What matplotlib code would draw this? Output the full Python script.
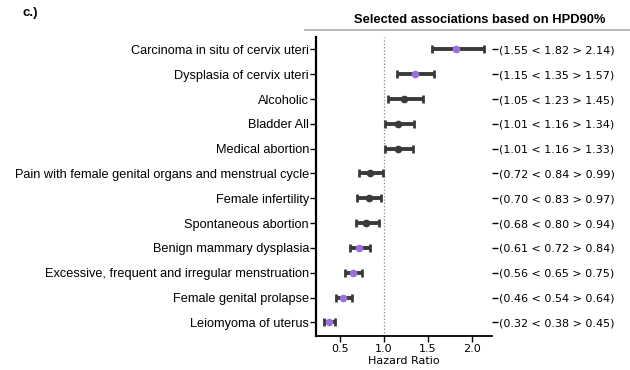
import matplotlib.pyplot as plt
from matplotlib.lines import Line2D

labels = [
    "Carcinoma in situ of cervix uteri",
    "Dysplasia of cervix uteri",
    "Alcoholic",
    "Bladder All",
    "Medical abortion",
    "Pain with female genital organs and menstrual cycle",
    "Female infertility",
    "Spontaneous abortion",
    "Benign mammary dysplasia",
    "Excessive, frequent and irregular menstruation",
    "Female genital prolapse",
    "Leiomyoma of uterus",
]
lower = [1.55, 1.15, 1.05, 1.01, 1.01, 0.72, 0.70, 0.68, 0.61, 0.56, 0.46, 0.32]
hr = [1.82, 1.35, 1.23, 1.16, 1.16, 0.84, 0.83, 0.80, 0.72, 0.65, 0.54, 0.38]
upper = [2.14, 1.57, 1.45, 1.34, 1.33, 0.99, 0.97, 0.94, 0.84, 0.75, 0.64, 0.45]
highlight = [True, True, False, False, False, False, False, False, True, True, True, True]

purple = "#9b6fe0"
bar_col = "#3a3a3a"

fig = plt.figure(figsize=(6.3, 3.7), dpi=100)
ax = fig.add_axes([0.5016, 0.092, 0.2794, 0.808])

ypos = list(range(len(labels)))
for y, lo, m, hi, hl in zip(ypos, lower, hr, upper, highlight):
    ax.errorbar(m, y, xerr=[[m - lo], [hi - m]], fmt="o", color=bar_col,
                ecolor=bar_col, elinewidth=2.8, capsize=3, capthick=2,
                markersize=4.5, markerfacecolor=purple if hl else bar_col,
                markeredgecolor=purple if hl else bar_col, zorder=3)

ax.axvline(1.0, color="#888888", linestyle=":", linewidth=0.9, zorder=1)

ax.set_ylim(11.55, -0.5)
ax.set_xlim(0.229, 2.231)
ax.set_xticks([0.5, 1.0, 1.5, 2.0])
ax.set_xticklabels(["0.5", "1.0", "1.5", "2.0"], fontsize=8)
ax.set_xlabel("Hazard Ratio", fontsize=8, labelpad=1)
ax.set_yticks(ypos)
ax.set_yticklabels(labels, fontsize=9.2, family="Liberation Sans")
ax.spines["top"].set_visible(False)
ax.spines["right"].set_visible(False)
ax.spines["left"].set_linewidth(1.6)
ax.spines["bottom"].set_linewidth(1.3)
ax.tick_params(axis="y", length=4, width=1, pad=1)
ax.tick_params(axis="x", length=4, width=1, pad=2)

# interval text on the right-hand side
ax2 = ax.twinx()
ax2.set_ylim(ax.get_ylim())
ax2.set_yticks(ypos)
ax2.set_yticklabels([f"({lo:.2f} < {m:.2f} > {hi:.2f})"
                     for lo, m, hi in zip(lower, hr, upper)], fontsize=8)
for s in ["top", "right", "left", "bottom"]:
    ax2.spines[s].set_visible(False)
ax2.tick_params(axis="y", length=4, width=1, pad=1)

fig.text(0.035, 0.965, "c.)", fontsize=9.5, fontweight="bold",
         family="Liberation Sans", va="center")
fig.text(0.761, 0.946, "Selected associations based on HPD90%", fontsize=9.3,
         fontweight="bold", family="Liberation Sans", ha="center", va="center")
fig.add_artist(Line2D([0.484, 1.0], [0.918, 0.918], color="#aaaaaa",
                      linewidth=1.2, transform=fig.transFigure))

fig.savefig("out.png", dpi=100)
